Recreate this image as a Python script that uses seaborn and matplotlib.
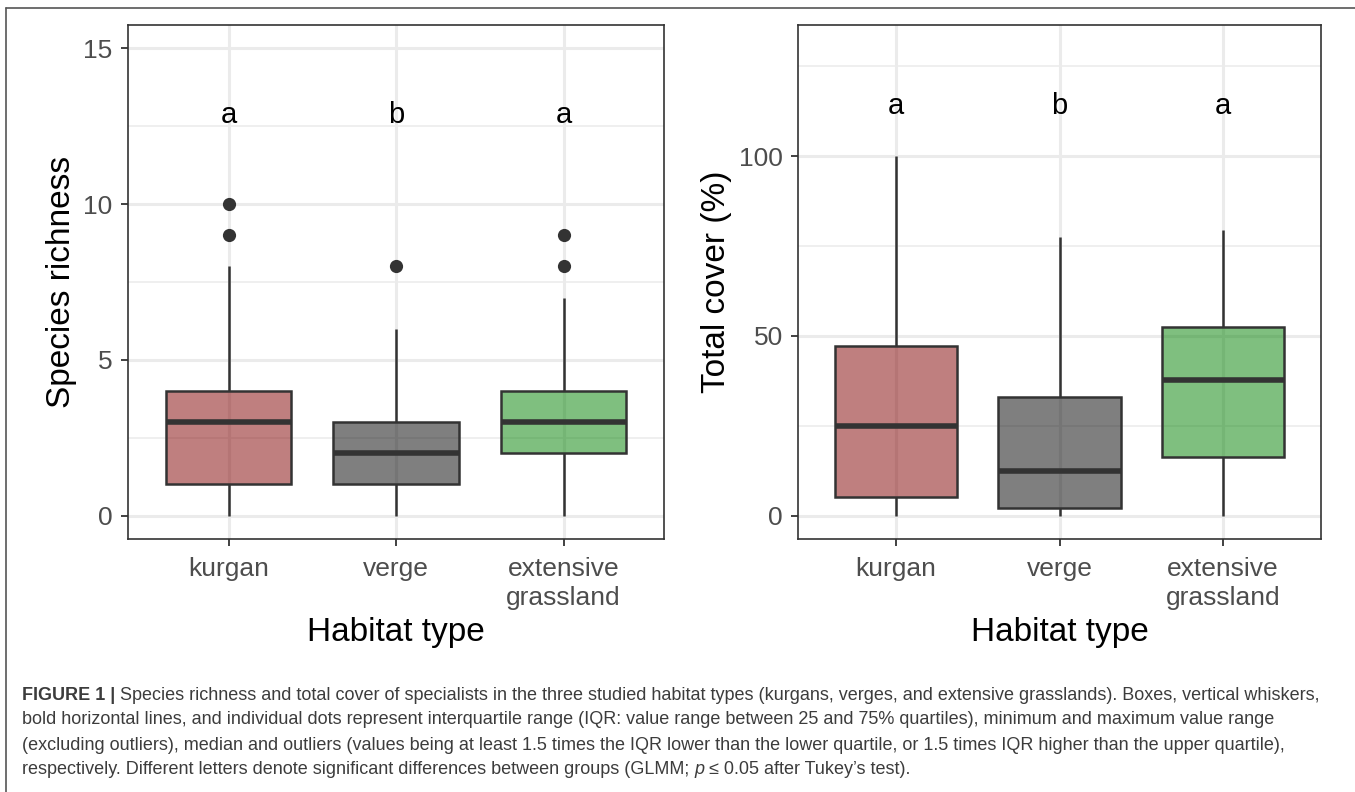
import matplotlib
matplotlib.use("Agg")
import matplotlib.pyplot as plt
from matplotlib.lines import Line2D
from matplotlib.ticker import MultipleLocator
import seaborn as sns
import pandas as pd

# ---------------- data ----------------
habitats = ["kurgan", "verge", "extensive\ngrassland"]

# Species richness: box statistics
rich_whislo = [0, 0, 0]
rich_q1 = [1, 1, 2]
rich_med = [3, 2, 3]
rich_q3 = [4, 3, 4]
rich_whishi = [8, 6, 7]
rich_outlier_group = ["kurgan", "kurgan", "verge", "extensive\ngrassland", "extensive\ngrassland"]
rich_outlier_value = [10, 9, 8, 9, 8]
rich_letters = ["a", "b", "a"]
rich_letter_y = [12.85, 12.85, 12.85]

# Total cover (%): box statistics
cov_whislo = [0, 0, 0]
cov_q1 = [5.1, 2.2, 16.2]
cov_med = [24.8, 12.3, 37.6]
cov_q3 = [47.3, 33.1, 52.5]
cov_whishi = [100, 77.6, 79.4]
cov_letters = ["a", "b", "a"]
cov_letter_y = [114, 114, 114]

fill_colors = ["#800000", "#000000", "#008000"]
fill_alpha = 0.5

# ---------------- style ----------------
sns.set_theme(style="whitegrid")
plt.rcParams["font.family"] = ["Liberation Sans", "DejaVu Sans"]

W, H = 1355, 792
fig = plt.figure(figsize=(W / 100, H / 100), dpi=100)
fig.patch.set_facecolor("white")


def px_axes(x0, y0, x1, y1):
    return fig.add_axes([x0 / W, 1 - y1 / H, (x1 - x0) / W, (y1 - y0) / H])


ax1 = px_axes(128, 25, 664, 539)
ax2 = px_axes(798, 25, 1321, 539)


def long_frame(lo, q1, med, q3, hi):
    rows = []
    for i, h in enumerate(habitats):
        for v in (lo[i], q1[i], med[i], q3[i], hi[i]):
            rows.append({"habitat": h, "value": v})
    return pd.DataFrame(rows)


def style_axes(ax, major, minor, ylim):
    ax.set_facecolor("white")
    ax.set_axisbelow(True)
    ax.set_ylim(*ylim)
    ax.set_xlim(-0.6, 2.6)
    ax.yaxis.set_major_locator(MultipleLocator(major))
    ax.yaxis.set_minor_locator(MultipleLocator(minor))
    ax.grid(True, which="major", axis="both", color="#EBEBEB", linewidth=2.2)
    ax.grid(True, which="minor", axis="y", color="#EBEBEB", linewidth=1.1)
    ax.tick_params(axis="both", which="major", length=5, width=1.3,
                   color="#333333", labelcolor="#4D4D4D", labelsize=19,
                   left=True, bottom=True)
    ax.tick_params(axis="x", which="major", pad=8)
    ax.tick_params(axis="y", which="major", pad=6)
    ax.tick_params(axis="y", which="minor", length=0)
    for s in ax.spines.values():
        s.set_visible(True)
        s.set_color("#333333")
        s.set_linewidth(1.2)
    ax.set_xlabel("Habitat type", fontsize=24, color="black", labelpad=5)


def draw_boxes(ax, df):
    sns.boxplot(data=df, x="habitat", y="value", hue="habitat", order=habitats,
                hue_order=habitats, palette=fill_colors, saturation=1,
                width=0.75, whis=(0, 100), showfliers=False, showcaps=False,
                linecolor="#333333", linewidth=1.8, legend=False,
                medianprops=dict(linewidth=4.0), ax=ax)
    for p in ax.patches:
        fc = p.get_facecolor()
        p.set_facecolor((fc[0], fc[1], fc[2], fill_alpha))
        p.set_edgecolor("#333333")


# Left panel
df1 = long_frame(rich_whislo, rich_q1, rich_med, rich_q3, rich_whishi)
draw_boxes(ax1, df1)
sns.stripplot(x=rich_outlier_group, y=rich_outlier_value, order=habitats,
              jitter=False, color="#333333", size=9.5, linewidth=0, ax=ax1)
for i, (lt, ly) in enumerate(zip(rich_letters, rich_letter_y)):
    ax1.text(i, ly, lt, ha="center", va="center", fontsize=21, color="black")
style_axes(ax1, 5, 2.5, (-0.75, 15.75))
ax1.set_ylabel("Species richness", fontsize=24, color="black", labelpad=5)

# Right panel
df2 = long_frame(cov_whislo, cov_q1, cov_med, cov_q3, cov_whishi)
draw_boxes(ax2, df2)
for i, (lt, ly) in enumerate(zip(cov_letters, cov_letter_y)):
    ax2.text(i, ly, lt, ha="center", va="center", fontsize=21, color="black")
style_axes(ax2, 50, 25, (-6.5, 136.5))
ax2.set_ylabel("Total cover (%)", fontsize=24, color="black", labelpad=5)

for ax in (ax1, ax2):
    for lab in ax.get_xticklabels():
        lab.set_linespacing(1.25)

# ---------------- outer frame ----------------
frame_col = "#555555"
fig.add_artist(Line2D([6 / W, 1], [1 - 8 / H, 1 - 8 / H], color=frame_col, linewidth=1.2,
                      transform=fig.transFigure))
fig.add_artist(Line2D([6 / W, 6 / W], [0, 1 - 8 / H], color=frame_col, linewidth=1.2,
                      transform=fig.transFigure))

# ---------------- caption ----------------
cap_col = "#3C3C3C"
cap_size = 13.0
renderer = fig.canvas.get_renderer()


def draw_runs(x_px, y_px, runs):
    x = x_px / W
    for txt, weight, style in runs:
        t = fig.text(x, 1 - y_px / H, txt, fontsize=cap_size, color=cap_col,
                     fontweight=weight, fontstyle=style, ha="left", va="center")
        bb = t.get_window_extent(renderer)
        x += bb.width / W


draw_runs(22, 695, [("FIGURE 1 | ", "bold", "normal"),
                    ("Species richness and total cover of specialists in the three studied habitat types "
                     "(kurgans, verges, and extensive grasslands). Boxes, vertical whiskers,", "normal", "normal")])
draw_runs(22, 720, [("bold horizontal lines, and individual dots represent interquartile range (IQR: value range "
                     "between 25 and 75% quartiles), minimum and maximum value range", "normal", "normal")])
draw_runs(22, 745, [("(excluding outliers), median and outliers (values being at least 1.5 times the IQR lower "
                     "than the lower quartile, or 1.5 times IQR higher than the upper quartile),", "normal", "normal")])
draw_runs(22, 770, [("respectively. Different letters denote significant differences between groups (GLMM; ",
                     "normal", "normal"),
                    ("p", "normal", "italic"),
                    (" \u2264 0.05 after Tukey\u2019s test).", "normal", "normal")])

fig.savefig("out.png", dpi=100, facecolor="white")
